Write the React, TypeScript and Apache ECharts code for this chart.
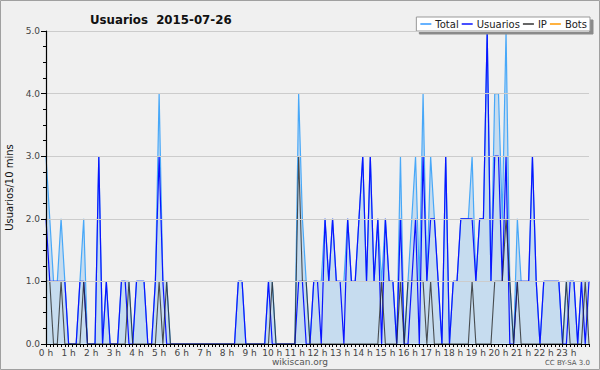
import React, { useEffect, useRef } from "react";
import * as echarts from "echarts";

// 10-minute slots, 0h00 .. 24h00
const hourTickLabels = [
  "0 h", "1 h", "2 h", "3 h", "4 h", "5 h", "6 h", "7 h", "8 h", "9 h", "10 h", "11 h",
  "12 h", "13 h", "14 h", "15 h", "16 h", "17 h", "18 h", "19 h", "20 h", "21 h", "22 h", "23 h",
];
const yTickLabels = ["0.0", "1.0", "2.0", "3.0", "4.0", "5.0"];

const totalValues = [
  3, 2, 1, 1, 2, 1, 0, 0, 0, 1, 2, 0, 0, 0, 3, 0, 1, 0,
  0, 0, 1, 1, 1, 0, 1, 1, 1, 0, 0, 1, 4, 1, 1, 0, 0, 0,
  0, 0, 0, 0, 0, 0, 0, 0, 0, 0, 0, 0, 0, 0, 0, 1, 1, 0,
  0, 0, 0, 0, 0, 1, 1, 0, 0, 0, 0, 0, 0, 4, 2, 1, 0, 1,
  1, 1, 2, 1, 2, 1, 1, 1, 2, 1, 1, 2, 3, 1, 3, 1, 2, 1,
  2, 1, 1, 0, 3, 0, 1, 2, 3, 1, 4, 1, 3, 2, 1, 0, 3, 0,
  1, 1, 2, 2, 2, 3, 1, 2, 2, 5, 1, 4, 4, 2, 5, 1, 0, 2,
  1, 1, 1, 3, 1, 0, 1, 1, 1, 1, 1, 0, 1, 1, 1, 0, 1, 1,
  1,
];
const usuariosValues = [
  2, 1, 1, 1, 1, 1, 0, 0, 0, 1, 1, 0, 0, 0, 3, 0, 1, 0,
  0, 0, 1, 1, 0, 0, 1, 1, 1, 0, 0, 1, 3, 1, 0, 0, 0, 0,
  0, 0, 0, 0, 0, 0, 0, 0, 0, 0, 0, 0, 0, 0, 0, 1, 1, 0,
  0, 0, 0, 0, 0, 1, 0, 0, 0, 0, 0, 0, 0, 1, 1, 0, 0, 1,
  1, 0, 2, 1, 2, 1, 1, 0, 2, 1, 1, 2, 3, 1, 3, 1, 2, 0,
  2, 1, 1, 0, 2, 0, 0, 1, 2, 0, 3, 1, 2, 2, 1, 0, 3, 0,
  1, 1, 2, 2, 2, 2, 1, 2, 2, 5, 1, 3, 3, 1, 3, 0, 0, 1,
  1, 1, 1, 3, 1, 0, 1, 1, 1, 1, 1, 0, 0, 1, 1, 0, 1, 0,
  1,
];
const ipValues = [
  1, 1, 0, 0, 1, 0, 0, 0, 0, 0, 1, 0, 0, 0, 0, 0, 0, 0,
  0, 0, 0, 0, 1, 0, 0, 0, 0, 0, 0, 0, 1, 0, 1, 0, 0, 0,
  0, 0, 0, 0, 0, 0, 0, 0, 0, 0, 0, 0, 0, 0, 0, 0, 0, 0,
  0, 0, 0, 0, 0, 0, 1, 0, 0, 0, 0, 0, 0, 3, 1, 1, 0, 0,
  0, 0, 0, 0, 0, 0, 0, 0, 0, 0, 0, 0, 0, 0, 0, 0, 0, 1,
  0, 0, 0, 0, 1, 0, 1, 1, 1, 1, 1, 0, 1, 0, 0, 0, 0, 0,
  0, 0, 0, 0, 0, 1, 0, 0, 0, 0, 0, 1, 1, 1, 2, 1, 0, 1,
  0, 0, 0, 0, 0, 0, 0, 0, 0, 0, 0, 0, 1, 0, 0, 0, 0, 1,
  0,
];
const botsValues = totalValues.map(() => 0);
const slots = totalValues.map((_, i) => String(i));

const FONT = "DejaVu Sans";

export default function App() {
  const ref = useRef<HTMLDivElement>(null);

  useEffect(() => {
    if (!ref.current) return;
    const chart = echarts.init(ref.current, undefined, { renderer: "svg" });
    chart.setOption({
      animation: false,
      backgroundColor: "#f0f0f0",
      title: {
        text: "Usuarios  2015-07-26",
        left: 85,
        top: 9,
        textStyle: { fontFamily: FONT, fontSize: 11.8, fontWeight: "bold", color: "#111" },
      },
      legend: {
        right: 10,
        top: 17,
        orient: "horizontal",
        backgroundColor: "#ffffff",
        borderColor: "#999",
        borderWidth: 1,
        borderRadius: 0,
        shadowColor: "#8a8a8a",
        shadowBlur: 0,
        shadowOffsetX: 3,
        shadowOffsetY: 3,
        padding: [2, 3, 2, 4],
        itemGap: 3,
        itemWidth: 11,
        itemHeight: 1.5,
        icon: "rect",
        textStyle: { fontFamily: FONT, fontSize: 10, color: "#222", padding: [0, 0, 0, -1] },
        data: ["Total", "Usuarios", "IP", "Bots"],
      },
      grid: {
        left: 46,
        right: 11,
        top: 31,
        bottom: 26,
        containLabel: false,
        outerBoundsMode: "none",
      },
      xAxis: {
        type: "category",
        data: slots,
        boundaryGap: false,
        z: 5,
        axisLine: { lineStyle: { color: "#000", width: 1.2 } },
        axisTick: { interval: 0, length: 3, lineStyle: { color: "#000" } },
        axisLabel: {
          interval: 0,
          fontFamily: FONT,
          fontSize: 9,
          color: "#444",
          margin: 4,
          formatter: (_v: string, idx: number) =>
            idx % 6 === 0 && idx / 6 < hourTickLabels.length ? hourTickLabels[idx / 6] : "",
        },
        splitLine: { show: false },
      },
      yAxis: {
        type: "value",
        min: 0,
        max: 5,
        interval: 1,
        z: 5,
        name: "Usuarios/10 mins",
        nameLocation: "middle",
        nameGap: 32,
        nameTextStyle: { fontFamily: FONT, fontSize: 10, color: "#111" },
        axisLine: { show: true, lineStyle: { color: "#000", width: 1.2 } },
        axisTick: { show: true, length: 5, lineStyle: { color: "#000" } },
        minorTick: { show: true, splitNumber: 4, length: 3, lineStyle: { color: "#000" } },
        axisLabel: {
          fontFamily: FONT,
          fontSize: 9,
          color: "#444",
          margin: 6,
          formatter: (v: number) => yTickLabels[Math.round(v)] ?? "",
        },
        splitLine: { lineStyle: { color: "#cccccc", width: 1 } },
      },
      series: [
        {
          name: "Bots",
          type: "line",
          data: botsValues,
          symbol: "none",
          color: "#ff9900",
          lineStyle: { width: 1, color: "#ff9900" },
          z: 1,
        },
        {
          name: "Total",
          type: "line",
          data: totalValues,
          symbol: "none",
          color: "#3399ff",
          lineStyle: { width: 1.2, color: "#48a8f8" },
          areaStyle: { color: "#c6dcef", opacity: 1 },
          z: 2,
        },
        {
          name: "Usuarios",
          type: "line",
          data: usuariosValues,
          symbol: "none",
          color: "#0a14ff",
          lineStyle: { width: 1.2, color: "#0a14ff" },
          z: 3,
        },
        {
          name: "IP",
          type: "line",
          data: ipValues,
          symbol: "none",
          color: "#333333",
          lineStyle: { width: 1.1, color: "rgba(40,40,40,0.8)" },
          z: 4,
        },
      ],
      graphic: [
        {
          type: "rect",
          shape: { x: 0.5, y: 0.5, width: 599, height: 369 },
          style: { fill: "none", stroke: "#a0a0a0", lineWidth: 1 },
          silent: true,
        },
        {
          type: "text",
          x: 300,
          y: 362,
          style: {
            text: "wikiscan.org",
            fontFamily: FONT,
            fontSize: 9,
            fill: "#555",
            align: "center",
            verticalAlign: "middle",
          },
        },
        {
          type: "text",
          x: 590,
          y: 363,
          style: {
            text: "CC BY-SA 3.0",
            fontFamily: FONT,
            fontSize: 7,
            fill: "#555",
            align: "right",
            verticalAlign: "middle",
          },
        },
      ],
    });
    return () => chart.dispose();
  }, []);

  return (
    <div
      ref={ref}
      style={{ position: "fixed", left: 0, top: 0, width: 600, height: 370 }}
    />
  );
}
